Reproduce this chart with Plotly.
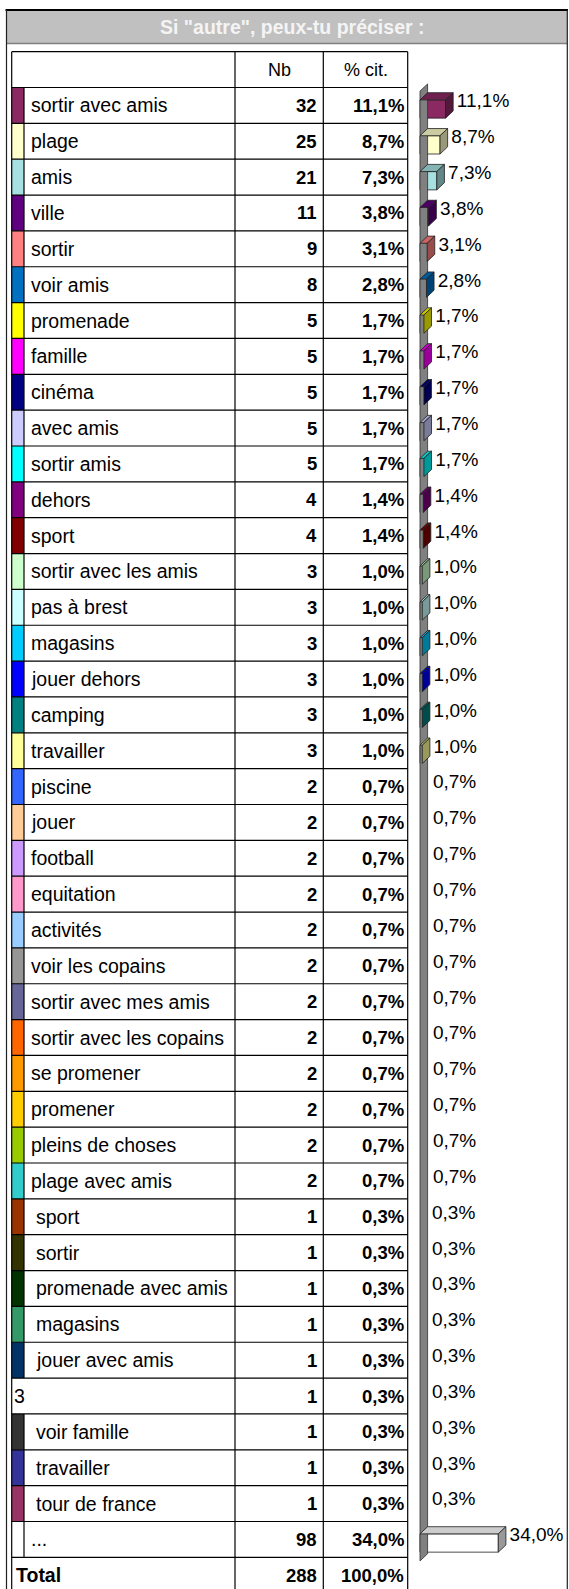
import plotly.graph_objects as go

W, H = 569, 1589

title = 'Si "autre", peux-tu préciser :'
col_headers = ["Nb", "% cit."]

labels = [
    "sortir avec amis", "plage", "amis", "ville", "sortir", "voir amis",
    "promenade", "famille", "cinéma", "avec amis", "sortir amis", "dehors",
    "sport", "sortir avec les amis", "pas à brest", "magasins",
    "jouer dehors", "camping", "travailler", "piscine", "jouer", "football",
    "equitation", "activités", "voir les copains", "sortir avec mes amis",
    "sortir avec les copains", "se promener", "promener", "pleins de choses",
    "plage avec amis", " sport", " sortir", " promenade avec amis",
    " magasins", " jouer avec amis", "3", " voir famille", " travailler",
    " tour de france", "...",
]
counts = [32, 25, 21, 11, 9, 8, 5, 5, 5, 5, 5, 4, 4, 3, 3, 3, 3, 3, 3,
          2, 2, 2, 2, 2, 2, 2, 2, 2, 2, 2, 2,
          1, 1, 1, 1, 1, 1, 1, 1, 1, 98]
pcts = [11.1, 8.7, 7.3, 3.8, 3.1, 2.8, 1.7, 1.7, 1.7, 1.7, 1.7, 1.4, 1.4,
        1.0, 1.0, 1.0, 1.0, 1.0, 1.0,
        0.7, 0.7, 0.7, 0.7, 0.7, 0.7, 0.7, 0.7, 0.7, 0.7, 0.7, 0.7,
        0.3, 0.3, 0.3, 0.3, 0.3, 0.3, 0.3, 0.3, 0.3, 34.0]
colors = [
    "#8b2a62", "#ffffcc", "#a6e0e0", "#600080", "#ff8080", "#0070c0",
    "#ffff00", "#ff00ff", "#000080", "#ccccff", "#00ffff", "#800080",
    "#800000", "#ccffcc", "#ccffff", "#00ccff", "#0000ff", "#008080",
    "#ffff99", "#3366ff", "#ffcc99", "#cc99ff", "#ff99cc", "#99ccff",
    "#969696", "#666699", "#ff6600", "#ff9900", "#ffcc00", "#99cc00",
    "#33cccc", "#993300", "#333300", "#003300", "#339966", "#003366",
    None, "#333333", "#333399", "#993366", "#ffffff",
]
total_label = "Total"
total_count = 288
total_pct = 100.0

FONT = "Liberation Sans, Arial, sans-serif"
FS = 19.5    # labels
FS_NUM = 18.5  # numbers

# pixel geometry
ROW0_TOP, ROW_H = 87.5, 35.85
TL, SW, C1, C2, TR = 11.7, 24, 235, 323.3, 407.7
X0_BAR, PX_PER_PCT = 420, 2.303
DX, DY, BAR_H, SHIFT = 3.3, 0.2, 0.51, 0.1   # 3D depth (pct / rows)
GAP, LABEL_LIFT = 1.6, 0.08


def pyp(p):
    return 1 - p / H


def fmt(v):
    return f"{v:.1f}".replace(".", ",") + "%"


def shade(hexc, f):
    r, g, b = (int(hexc[i:i + 2], 16) for i in (1, 3, 5))
    return "#%02x%02x%02x" % (int(r * f), int(g * f), int(b * f))


n = len(labels)
rows = list(range(n))
y_top = -ROW0_TOP / ROW_H - 0.5
y_bot = (H - ROW0_TOP) / ROW_H - 0.5

fig = go.Figure()

# side wall of the 3D chart
fig.add_trace(go.Scatter(
    x=[0, DX, DX, 0, 0],
    y=[-0.5 + SHIFT, -0.5 + SHIFT - DY, n - 0.5 + SHIFT - DY, n - 0.5 + SHIFT, -0.5 + SHIFT],
    mode="lines", fill="toself", fillcolor="#808080",
    line=dict(color="#303030", width=0.8), xaxis="x2", yaxis="y",
    hoverinfo="skip", showlegend=False,
))

# bars (only those drawn in the source chart: >= 1%)
shown = [i for i in rows if pcts[i] >= 1.0]
for i in shown:
    v, c = pcts[i], colors[i]
    ft = i + SHIFT - BAR_H / 2
    fb = i + SHIFT + BAR_H / 2
    fig.add_trace(go.Scatter(
        x=[0, v, v + DX, DX, 0], y=[ft, ft, ft - DY, ft - DY, ft],
        mode="lines", fill="toself", fillcolor=shade(c, 0.8),
        line=dict(color="#202020", width=0.8), xaxis="x2", yaxis="y",
        hoverinfo="skip", showlegend=False,
    ))
    fig.add_trace(go.Scatter(
        x=[v, v + DX, v + DX, v, v], y=[ft, ft - DY, fb - DY, fb, ft],
        mode="lines", fill="toself", fillcolor=shade(c, 0.6),
        line=dict(color="#202020", width=0.8), xaxis="x2", yaxis="y",
        hoverinfo="skip", showlegend=False,
    ))

fig.add_trace(go.Bar(
    x=[pcts[i] for i in shown], y=shown, orientation="h",
    width=BAR_H, offset=SHIFT - BAR_H / 2, base=0,
    marker=dict(color=[colors[i] for i in shown], line=dict(color="#202020", width=0.8)),
    xaxis="x2", yaxis="y", hoverinfo="skip", showlegend=False,
))

fig.add_trace(go.Scatter(
    x=[v + DX + GAP for v in pcts], y=[r - LABEL_LIFT for r in rows], mode="text",
    text=[fmt(v) for v in pcts], textposition="middle right",
    textfont=dict(family=FONT, size=19, color="#000000"),
    xaxis="x2", yaxis="y", hoverinfo="skip", showlegend=False,
))

shapes = []
ann = []
LW = 1.2

# frame and title bar
shapes.append(dict(type="rect", xref="x", yref="paper", x0=6, x1=567,
                   y0=pyp(43.5), y1=pyp(10), fillcolor="#c0c0c0",
                   line=dict(width=0), layer="below"))
shapes.append(dict(type="line", xref="x", yref="paper", x0=6, x1=567,
                   y0=pyp(43.5), y1=pyp(43.5), line=dict(color="#808080", width=1.5)))
shapes.append(dict(type="line", xref="x", yref="paper", x0=5.5, x1=568,
                   y0=pyp(10), y1=pyp(10), line=dict(color="#000000", width=2)))
for xx in (6.5, 567.3):
    shapes.append(dict(type="line", xref="x", yref="paper", x0=xx, x1=xx,
                       y0=0, y1=pyp(10), line=dict(color="#202020", width=1.2)))
ann.append(dict(text=f"<b>{title}</b>", xref="x", yref="paper", x=292, y=pyp(27),
                xanchor="center", yanchor="middle", showarrow=False,
                font=dict(family=FONT, size=19.5, color="#f4f4f4")))

# swatches
for i in rows:
    if colors[i] is None:
        continue
    shapes.append(dict(type="rect", xref="x", yref="y", x0=TL, x1=SW,
                       y0=i - 0.5, y1=i + 0.5, fillcolor=colors[i],
                       line=dict(width=0), layer="below"))
    shapes.append(dict(type="line", xref="x", yref="y", x0=SW, x1=SW,
                       y0=i - 0.5, y1=i + 0.5, line=dict(color="#000000", width=LW)))

# grid
for k in range(-1, n + 2):
    shapes.append(dict(type="line", xref="x", yref="y", x0=TL, x1=TR,
                       y0=k - 0.5, y1=k - 0.5, line=dict(color="#000000", width=LW)))
for xx in (TL, C1, C2, TR):
    shapes.append(dict(type="line", xref="x", yref="y", x0=xx, x1=xx,
                       y0=-1.5, y1=n + 0.5, line=dict(color="#000000", width=LW)))

# header
for txt, xc in zip(col_headers, [(C1 + C2) / 2, (C2 + TR) / 2]):
    ann.append(dict(text=txt, x=xc, y=-1, xref="x", yref="y", xanchor="center",
                    yanchor="middle", showarrow=False,
                    font=dict(family=FONT, size=18, color="#000000")))

lab_font = dict(family=FONT, size=FS, color="#000000")
num_font = dict(family=FONT, size=FS_NUM, color="#000000")
for i in rows:
    lab = labels[i]
    lx = 30 if colors[i] is not None else TL + 1
    if lab.startswith(" "):
        lx += 5
    ann.append(dict(text=lab.strip(), x=lx, y=i, xref="x", yref="y", xanchor="left",
                    yanchor="middle", showarrow=False, borderpad=0, font=lab_font))
    ann.append(dict(text=f"<b>{counts[i]}</b>", x=C2 - 5, y=i, xref="x", yref="y",
                    xanchor="right", yanchor="middle", showarrow=False, borderpad=0,
                    font=num_font))
    ann.append(dict(text=f"<b>{fmt(pcts[i])}</b>", x=TR - 3, y=i, xref="x", yref="y",
                    xanchor="right", yanchor="middle", showarrow=False, borderpad=0,
                    font=num_font))

ann.append(dict(text=f"<b>{total_label}</b>", x=TL + 3, y=n, xref="x", yref="y",
                xanchor="left", yanchor="middle", showarrow=False, borderpad=0,
                font=lab_font))
ann.append(dict(text=f"<b>{total_count}</b>", x=C2 - 5, y=n, xref="x", yref="y",
                xanchor="right", yanchor="middle", showarrow=False, borderpad=0,
                font=num_font))
ann.append(dict(text=f"<b>{fmt(total_pct)}</b>", x=TR - 3, y=n, xref="x", yref="y",
                xanchor="right", yanchor="middle", showarrow=False, borderpad=0,
                font=num_font))

fig.update_layout(
    width=W, height=H, autosize=False,
    margin=dict(l=0, r=0, t=0, b=0),
    paper_bgcolor="#ffffff", plot_bgcolor="#ffffff",
    xaxis=dict(range=[0, W], domain=[0, 1], visible=False, fixedrange=True),
    xaxis2=dict(range=[-X0_BAR / PX_PER_PCT, (W - X0_BAR) / PX_PER_PCT],
                domain=[0, 1], overlaying="x", visible=False, fixedrange=True),
    yaxis=dict(range=[y_bot, y_top], domain=[0, 1], visible=False, fixedrange=True),
    shapes=shapes, annotations=ann, showlegend=False,
)

# the page's default body margin would shift the figure by 8px
fig.write_html(
    "out.html",
    config={"displayModeBar": False, "staticPlot": True},
    post_script="document.body.style.margin='0';document.body.style.overflow='hidden';",
)
